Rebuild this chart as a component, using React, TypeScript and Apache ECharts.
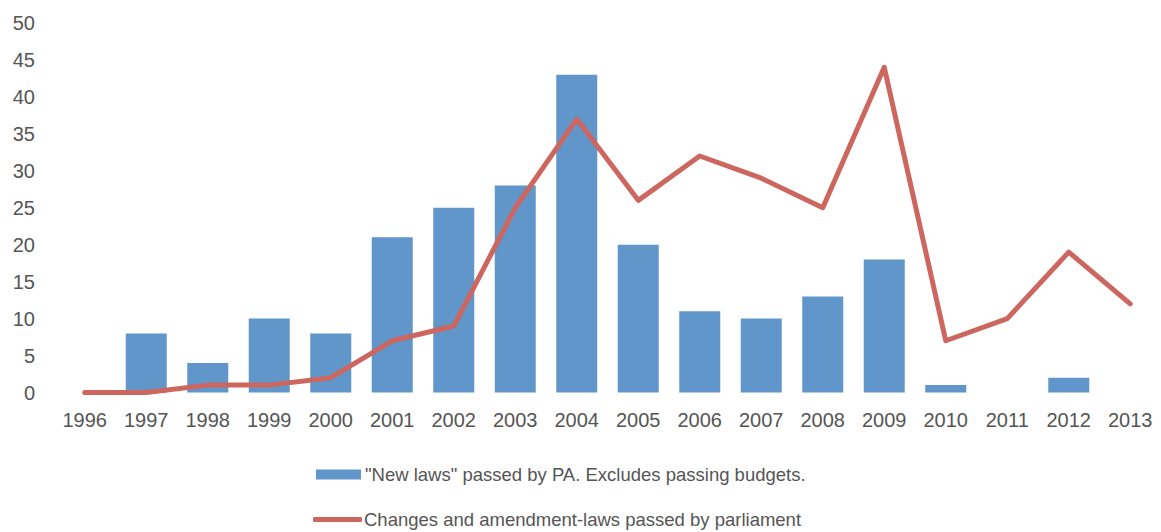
import React, { useEffect, useRef } from "react";
import * as echarts from "echarts";

const years = ["1996","1997","1998","1999","2000","2001","2002","2003","2004","2005","2006","2007","2008","2009","2010","2011","2012","2013"];
const newLaws = [0, 8, 4, 10, 8, 21, 25, 28, 43, 20, 11, 10, 13, 18, 1, 0, 2, 0];
const amendments = [0, 0, 1, 1, 2, 7, 9, 25, 37, 26, 32, 29, 25, 44, 7, 10, 19, 12];
const barName = '"New laws" passed by PA. Excludes passing budgets.';
const lineName = "Changes and amendment-laws passed by parliament";

const FONT = "'Liberation Sans', Arial, sans-serif";
const TEXT = "#555555";

export default function App() {
  const ref = useRef<HTMLDivElement>(null);
  useEffect(() => {
    if (!ref.current) return;
    const chart = echarts.init(ref.current, null, { renderer: "svg" });
    chart.setOption({
      animation: false,
      textStyle: { fontFamily: FONT },
      grid: { left: 54, width: 1108.6, top: 23, bottom: 139.5, containLabel: false },
      legend: [
        {
          data: [barName],
          left: 316,
          top: 465,
          itemWidth: 45,
          itemHeight: 10,
          padding: 0,
          icon: "rect",
          textStyle: { fontSize: 18.5, color: TEXT, fontFamily: FONT, padding: [0, 0, 0, -1] },
          selectedMode: false,
        },
        {
          data: [lineName],
          left: 313,
          top: 510,
          itemWidth: 49,
          itemHeight: 5,
          padding: 0,
          icon: "roundRect",
          textStyle: { fontSize: 18.5, color: TEXT, fontFamily: FONT, padding: [0, 0, 0, -3] },
          selectedMode: false,
        },
      ],
      xAxis: {
        type: "category",
        data: years,
        boundaryGap: true,
        axisLine: { show: false },
        axisTick: { show: false },
        axisLabel: { fontSize: 20, color: TEXT, margin: 17, fontFamily: FONT, interval: 0 },
      },
      yAxis: {
        type: "value",
        min: 0,
        max: 50,
        interval: 5,
        axisLine: { show: false },
        axisTick: { show: false },
        splitLine: { show: false },
        axisLabel: { fontSize: 20, color: TEXT, margin: 19, fontFamily: FONT },
      },
      series: [
        {
          name: barName,
          type: "bar",
          data: newLaws,
          barWidth: 41,
          itemStyle: { color: "#6096C9" },
        },
        {
          name: lineName,
          type: "line",
          data: amendments,
          symbol: "none",
          lineStyle: { color: "#CC665E", width: 5, cap: "round", join: "round" },
          itemStyle: { color: "#CC665E" },
        },
      ],
    });
    return () => chart.dispose();
  }, []);
  return <div ref={ref} style={{ position: "absolute", left: 0, top: 0, width: 1161, height: 532 }} />;
}
